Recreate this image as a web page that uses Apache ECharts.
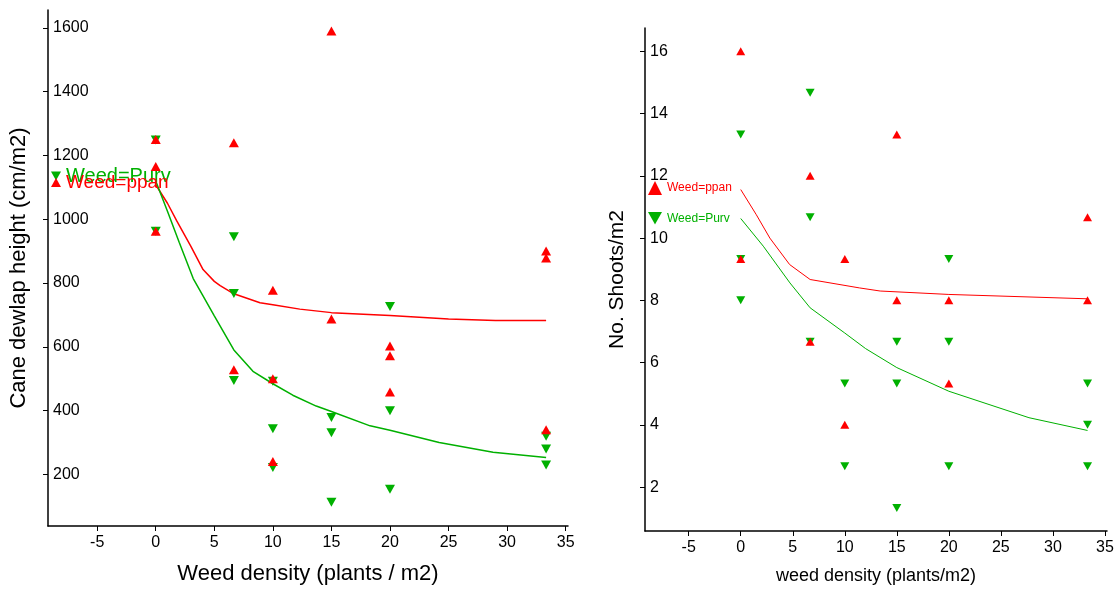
<!DOCTYPE html>
<html>
<head>
<meta charset="utf-8">
<script src="https://cdn.jsdelivr.net/npm/echarts@6/dist/echarts.min.js"></script>
<style>
html,body{margin:0;padding:0;background:#fff;}
#chart{width:1117px;height:590px;}
</style>
</head>
<body>
<div id="chart"></div>
<script>
// ---------- data ----------
const seriesNames = ['Weed=ppan', 'Weed=Purv'];
const xTicks = [-5, 0, 5, 10, 15, 20, 25, 30, 35];
const leftYTicks = [200, 400, 600, 800, 1000, 1200, 1400, 1600];
const rightYTicks = [2, 4, 6, 8, 10, 12, 14, 16];

// Left panel: cane dewlap height (cm/m2) vs weed density
const leftPpan = [[0,1250],[0,1165],[0,962],[6.67,1240],[6.67,528],[10,777],[10,500],[10,240],
  [15,1590],[15,687],[20,602],[20,572],[20,458],[33.33,900],[33.33,878],[33.33,340]];
const leftPurv = [[0,1248],[0,962],[6.67,945],[6.67,767],[6.67,494],[10,492],[10,343],[10,221],
  [15,378],[15,330],[15,112],[20,726],[20,399],[20,153],[33.33,319],[33.33,279],[33.33,229]];
const leftPpanFit = [[0,1108],[1,1050],[1.77,996],[3,915],[4.04,842],[5,805],[5.5,792],[6.67,766],
  [8.9,738],[10,732],[12.3,718],[15,707],[20,698],[25,687],[29,682],[33.33,682]];
const leftPurvFit = [[0,1120],[1,1025],[2,928],[3.2,814],[4,762],[5,697],[6.67,590],[8.3,523],
  [10,484],[11.7,448],[13.7,414],[15,397],[18.3,352],[20,338],[24.2,300],[28.8,269],[33.33,253]];

// Right panel: no. shoots/m2 vs weed density
const rightPpan = [[0,16],[0,9.33],[6.67,12],[6.67,6.67],[10,9.33],[10,4],[15,13.33],[15,8],
  [20,8],[20,5.33],[33.33,10.67],[33.33,8]];
const rightPurv = [[0,13.33],[0,9.33],[0,8],[6.67,14.67],[6.67,10.67],[6.67,6.67],[10,5.33],[10,2.67],
  [15,6.67],[15,5.33],[15,1.33],[20,9.33],[20,6.67],[20,2.67],[33.33,5.33],[33.33,4],[33.33,2.67]];
const rightPpanFit = [[0,11.56],[1.5,10.75],[2.8,10.0],[4.7,9.15],[6.67,8.67],[11.4,8.4],[13.4,8.3],
  [20,8.19],[33.33,8.05]];
const rightPurvFit = [[0,10.63],[2.17,9.74],[4.73,8.56],[6.67,7.76],[10,6.95],[12,6.45],[15,5.84],
  [20,5.08],[27.7,4.23],[33.33,3.82]];

// ---------- styles ----------
const RED = '#ff0000';
const GREEN = '#00b000';
const FONT = '"Liberation Sans", Arial, sans-serif';
const UP = 'triangle';
const DOWN = 'path://M0,0L10,0L5,9Z';
const plain = v => String(v);

function xAxisCfg(gridIndex, name, nameSize, nameGap) {
  return {
    type: 'value', gridIndex, min: -9.2, max: 35.2,
    name, nameLocation: 'middle', nameGap,
    nameTextStyle: {fontFamily: FONT, fontSize: nameSize, color: '#000'},
    axisLine: {show: true, onZero: false, lineStyle: {color: '#000', width: 1.5}},
    axisTick: {show: true, length: 5, inside: false, customValues: xTicks, lineStyle: {color: '#000', width: 1}},
    axisLabel: {customValues: xTicks, formatter: plain, fontFamily: FONT, fontSize: 16, color: '#000', margin: 9},
    splitLine: {show: false}
  };
}
function yAxisCfg(gridIndex, name, nameSize, nameGap, min, max, ticks) {
  return {
    type: 'value', gridIndex, min, max,
    name, nameLocation: 'middle', nameGap, nameRotate: 90,
    nameTextStyle: {fontFamily: FONT, fontSize: nameSize, color: '#000'},
    axisLine: {show: true, onZero: false, lineStyle: {color: '#000', width: 1.5}},
    axisTick: {show: true, length: 5, inside: false, customValues: ticks, lineStyle: {color: '#000', width: 1}},
    axisLabel: {customValues: ticks, formatter: plain, inside: true, fontFamily: FONT, fontSize: 16, color: '#000', margin: 5},
    splitLine: {show: false}
  };
}
function scatter(name, data, idx, sym, color, size) {
  return {name, type: 'scatter', xAxisIndex: idx, yAxisIndex: idx, data, symbol: sym,
    symbolSize: size, itemStyle: {color, opacity: 1}, z: 3};
}
function fit(name, data, idx, color, width) {
  return {name, type: 'line', xAxisIndex: idx, yAxisIndex: idx, data, symbol: 'none', smooth: false,
    lineStyle: {color, width}, z: 2};
}

const option = {
  animation: false,
  backgroundColor: '#fff',
  grid: [
    {left: 48, top: 10, width: 520, height: 519},
    {left: 645, top: 28, width: 462, height: 504}
  ],
  xAxis: [
    xAxisCfg(0, 'Weed density (plants / m2)', 22, 37),
    xAxisCfg(1, 'weed density (plants/m2)', 18, 36)
  ],
  yAxis: [
    yAxisCfg(0, 'Cane dewlap height (cm/m2)', 22, 18, 37.9, 1656, leftYTicks),
    yAxisCfg(1, 'No. Shoots/m2', 21, 17, 0.59, 16.75, rightYTicks)
  ],
  legend: [
    {data: [{name: seriesNames[1], icon: DOWN}], left: 51, top: 166, padding: 0, selectedMode: false,
      itemWidth: 10, itemHeight: 9, textStyle: {fontFamily: FONT, fontSize: 20, color: GREEN}},
    {data: [{name: seriesNames[0], icon: UP}], left: 51, top: 173, padding: 0, selectedMode: false,
      itemWidth: 10, itemHeight: 9, textStyle: {fontFamily: FONT, fontSize: 19, color: RED}},
    {data: [{name: seriesNames[0], icon: UP}], left: 648, top: 181, padding: 0, selectedMode: false,
      itemWidth: 14, itemHeight: 14, textStyle: {fontFamily: FONT, fontSize: 12, color: RED}},
    {data: [{name: seriesNames[1], icon: DOWN}], left: 648, top: 212, padding: 0, selectedMode: false,
      itemWidth: 14, itemHeight: 14, textStyle: {fontFamily: FONT, fontSize: 12, color: GREEN}}
  ],
  series: [
    fit('fit_ppan_L', leftPpanFit, 0, RED, 1.5),
    fit('fit_purv_L', leftPurvFit, 0, GREEN, 1.5),
    scatter(seriesNames[1], leftPurv, 0, DOWN, GREEN, [10, 9]),
    scatter(seriesNames[0], leftPpan, 0, UP, RED, [10, 9]),
    fit('fit_ppan_R', rightPpanFit, 1, RED, 1),
    fit('fit_purv_R', rightPurvFit, 1, GREEN, 1),
    scatter(seriesNames[1], rightPurv, 1, DOWN, GREEN, [9, 8]),
    scatter(seriesNames[0], rightPpan, 1, UP, RED, [9, 8])
  ]
};

const chart = echarts.init(document.getElementById('chart'), null, {renderer: 'canvas'});
chart.setOption(option);
</script>
</body>
</html>
